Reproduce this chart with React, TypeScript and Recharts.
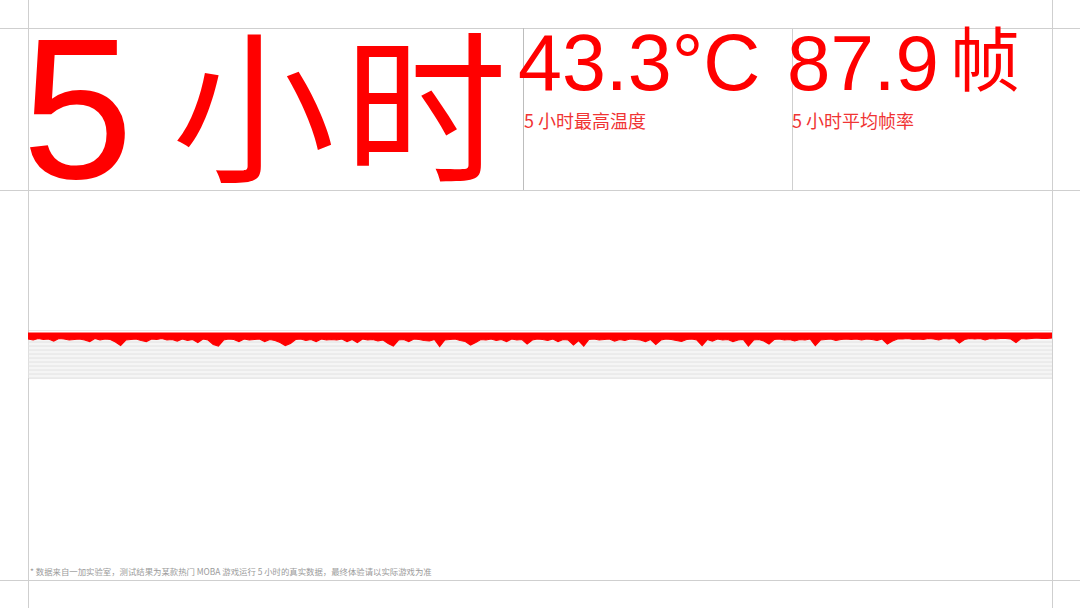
import { AreaChart, Area, XAxis, YAxis, CartesianGrid } from "recharts";

// frame rate samples over the 5-hour run
const fpsValues = [
  78, 76, 79, 77, 78, 74, 79, 78, 76, 77,
  78, 76, 73, 79, 76, 78, 77, 72, 65, 76,
  77, 78, 75, 73, 78, 77, 79, 76, 77, 74,
  78, 75, 77, 71, 78, 76, 67, 64, 76, 78,
  77, 73, 78, 76, 77, 78, 73, 77, 75, 71,
  65, 69, 77, 78, 75, 77, 73, 78, 76, 77,
  76, 78, 73, 77, 71, 78, 76, 77, 74, 76,
  69, 64, 76, 77, 73, 78, 77, 75, 74, 77,
  63, 76, 77, 78, 75, 73, 66, 71, 77, 76,
  78, 75, 77, 73, 78, 76, 77, 68, 76, 78,
  77, 75, 78, 73, 77, 76, 66, 75, 64, 77,
  78, 76, 77, 78, 74, 77, 75, 78, 77, 76,
  73, 77, 67, 76, 78, 77, 75, 73, 77, 78,
  76, 65, 77, 74, 78, 76, 77, 73, 76, 77,
  64, 76, 77, 74, 68, 77, 78, 76, 77, 74,
  77, 76, 78, 65, 76, 77, 78, 75, 77, 78,
  77, 78, 76, 78, 77, 75, 78, 68, 74, 78,
  78, 79, 77, 78, 77, 79, 78, 76, 79, 78,
  79, 70, 77, 79, 78, 79, 76, 79, 78, 79,
  79, 78, 71, 79, 78, 79, 80, 79, 79, 80,
];

// frame cap the run sits under
const fpsCeiling = 90;
const yMax = 96;
const yTicks = [0, 8, 16, 24, 32, 40, 48, 56, 64, 72, 80, 88, 96];

const headline = { hours: "5", unit: "小时" };
const stats = [
  { value: "43.3°C", label: "5 小时最高温度" },
  { value: "87.9", suffix: "帧", label: "5 小时平均帧率" },
];
const footnote =
  "* 数据来自一加实验室，测试结果为某款热门 MOBA 游戏运行 5 小时的真实数据，最终体验请以实际游戏为准";

const RED = "#ff0000";
const LINE = "#cfcfcf";
const FONT = "'Liberation Sans', 'Noto Sans CJK SC', sans-serif";
const CJK = "'Noto Sans CJK SC'";

const data = fpsValues.map((fps, i) => ({ t: i, fps, band: [fps, fpsCeiling] }));

// grid rows at each tick value, placed inside the plot area
const gridRows = ({ offset }: any) => {
  const top = offset?.top ?? 0;
  const h = offset?.height ?? 48;
  return yTicks.map((v) => top + h * (1 - v / yMax));
};

function App() {
  return (
    <div
      style={{
        position: "fixed",
        left: 0,
        top: 0,
        width: 1080,
        height: 608,
        background: "#fff",
        overflow: "hidden",
        fontFamily: FONT,
      }}
    >
      {/* layout frame + headline texts */}
      <svg width={1080} height={608} style={{ position: "absolute", left: 0, top: 0 }}>
        <line x1={0} x2={1080} y1={28.5} y2={28.5} stroke={LINE} />
        <line x1={0} x2={1080} y1={190.5} y2={190.5} stroke={LINE} />
        <line x1={0} x2={1080} y1={580.5} y2={580.5} stroke={LINE} />
        <line x1={28.5} x2={28.5} y1={0} y2={608} stroke={LINE} />
        <line x1={1052.5} x2={1052.5} y1={0} y2={608} stroke={LINE} />
        <line x1={523.5} x2={523.5} y1={28} y2={190} stroke="#bdbdbd" />
        <line x1={792.5} x2={792.5} y1={28} y2={190} stroke={LINE} />

        <text x={22} y={178} fontSize={200} fill={RED} fontFamily={FONT}>
          {headline.hours}
        </text>
        <text x={172} y={169} fontSize={163} letterSpacing={9} fill={RED} fontFamily={CJK}>
          {headline.unit}
        </text>

        <text x={518} y={90} fontSize={79} fill={RED} fontFamily={FONT}>
          {stats[0].value}
        </text>
        <text x={524} y={128} fontSize={18} fill="#f03434" fontFamily={CJK}>
          {stats[0].label}
        </text>

        <text x={787} y={90} fontSize={78} fill={RED} fontFamily={FONT}>
          {stats[1].value}
        </text>
        <text x={950} y={86} fontSize={70} fill={RED} fontFamily={CJK}>
          {stats[1].suffix}
        </text>
        <text x={792} y={128} fontSize={18} fill="#f03434" fontFamily={CJK}>
          {stats[1].label}
        </text>

        <text x={30} y={575} fontSize={8.4} fill="#9a9a9a" fontFamily={CJK}>
          {footnote}
        </text>
      </svg>

      {/* frame rate band */}
      <div style={{ position: "absolute", left: 28, top: 330, width: 1024, height: 49 }}>
        <AreaChart width={1024} height={49} data={data} margin={{ top: 0, right: 0, bottom: 1, left: 0 }}>
          <CartesianGrid vertical={false} stroke="#d4d4d4" horizontalCoordinatesGenerator={gridRows} />
          <XAxis dataKey="t" hide />
          <YAxis hide domain={[0, yMax]} ticks={yTicks} interval={0} />
          <Area
            type="linear"
            dataKey="fps"
            stroke="none"
            fill="#ececec"
            fillOpacity={0.55}
            dot={false}
            activeDot={false}
            isAnimationActive={false}
          />
          <Area
            type="linear"
            dataKey="band"
            stroke={RED}
            strokeWidth={1.2}
            fill={RED}
            fillOpacity={1}
            dot={false}
            activeDot={false}
            isAnimationActive={false}
          />
        </AreaChart>
      </div>
    </div>
  );
}

export default App;
